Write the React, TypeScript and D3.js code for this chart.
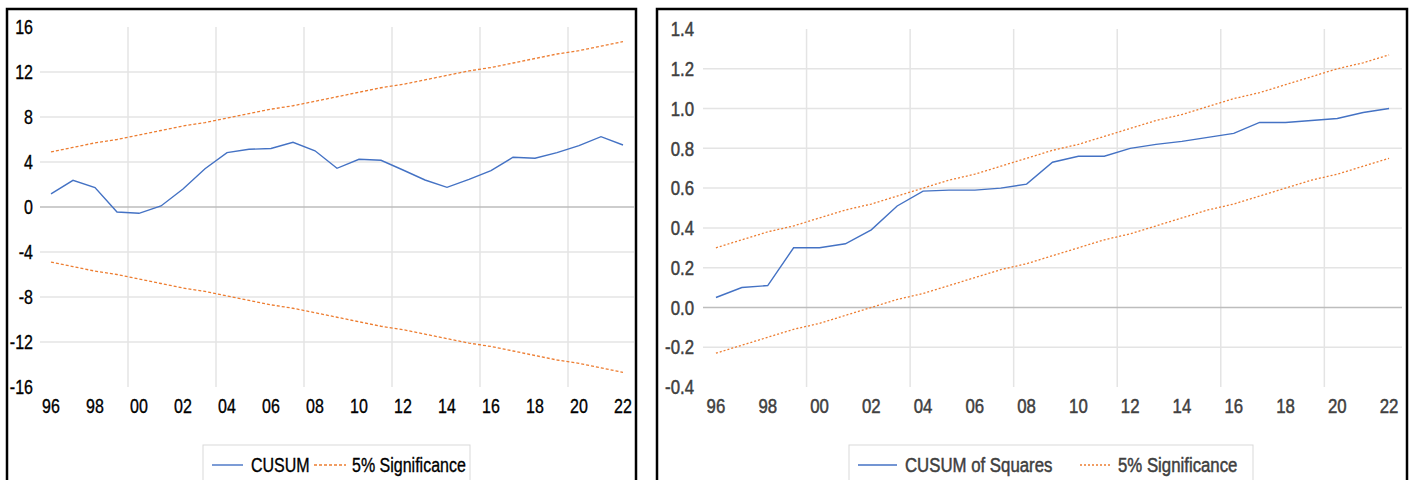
import React, { useEffect, useRef } from 'react';
import * as d3 from 'd3';

// categories (years)
const years = [1996, 1997, 1998, 1999, 2000, 2001, 2002, 2003, 2004, 2005, 2006, 2007, 2008, 2009,
  2010, 2011, 2012, 2013, 2014, 2015, 2016, 2017, 2018, 2019, 2020, 2021, 2022];
const labelYears = [1996, 1998, 2000, 2002, 2004, 2006, 2008, 2010, 2012, 2014, 2016, 2018, 2020, 2022];
const gridAfterYears = [1999, 2003, 2007, 2011, 2015, 2019];

// CUSUM panel
const cusum = [1.16, 2.37, 1.72, -0.44, -0.56, 0.09, 1.6, 3.4, 4.83, 5.13, 5.2, 5.75, 5.0, 3.44,
  4.24, 4.15, 3.29, 2.4, 1.75, 2.46, 3.23, 4.42, 4.33, 4.83, 5.45, 6.25, 5.51];
const cusumUpper = [4.9, 5.3, 5.7, 6.0, 6.4, 6.8, 7.2, 7.5, 7.9, 8.3, 8.7, 9.0, 9.4, 9.8,
  10.2, 10.6, 10.9, 11.3, 11.7, 12.1, 12.4, 12.8, 13.2, 13.6, 13.9, 14.3, 14.7];
const cusumLower = [-4.9, -5.3, -5.7, -6.0, -6.4, -6.8, -7.2, -7.5, -7.9, -8.3, -8.7, -9.0, -9.4, -9.8,
  -10.2, -10.6, -10.9, -11.3, -11.7, -12.1, -12.4, -12.8, -13.2, -13.6, -13.9, -14.3, -14.7];
const cusumTicks = [-16, -12, -8, -4, 0, 4, 8, 12, 16];

// CUSUM of squares panel
const cusumSq = [0.05, 0.1, 0.11, 0.3, 0.3, 0.32, 0.39, 0.51, 0.585, 0.59, 0.59, 0.6, 0.62, 0.73,
  0.76, 0.76, 0.8, 0.82, 0.835, 0.855, 0.875, 0.93, 0.93, 0.94, 0.95, 0.98, 1.0];
const sqUpper = [0.3, 0.34, 0.38, 0.41, 0.45, 0.49, 0.52, 0.56, 0.6, 0.64, 0.67, 0.71, 0.75, 0.79,
  0.82, 0.86, 0.9, 0.94, 0.97, 1.01, 1.05, 1.08, 1.12, 1.16, 1.2, 1.23, 1.27];
const sqLower = [-0.23, -0.19, -0.15, -0.11, -0.08, -0.04, 0.0, 0.04, 0.07, 0.11, 0.15, 0.19, 0.22, 0.26,
  0.3, 0.34, 0.37, 0.41, 0.45, 0.49, 0.52, 0.56, 0.6, 0.64, 0.67, 0.71, 0.75];
const sqTicks = [-0.4, -0.2, 0.0, 0.2, 0.4, 0.6, 0.8, 1.0, 1.2, 1.4];

// narrow look: Liberation Sans squeezed horizontally
const FONT = "'Liberation Sans', Arial, sans-serif";
const SQUEEZE = 0.8;

type G = d3.Selection<SVGGElement, unknown, null, undefined>;

interface PanelSpec {
  frame: [number, number];
  plotX: [number, number];
  plotY: [number, number];
  ticks: number[];
  fmt: (v: number) => string;
  labelRight: number;
  text: string;
  weight: number;
  fontSize: number;
  line: number[];
  upper: number[];
  lower: number[];
  dash: string;
  legend: { box: [number, number]; lineName: string; textX: [number, number] };
}

function label(g: G, p: PanelSpec, x: number, y: number, s: string, anchor = 'start') {
  g.append('text')
    .attr('transform', `translate(${x},${y}) scale(${SQUEEZE},1)`)
    .attr('text-anchor', anchor).attr('dominant-baseline', 'central')
    .attr('font-family', FONT).attr('font-size', p.fontSize).attr('fill', p.text)
    .attr('stroke', p.text).attr('stroke-width', p.weight)
    .text(s);
}

function drawPanel(root: G, p: PanelSpec) {
  const g = root.append('g') as G;

  const x = d3.scaleBand<number>().domain(years).range(p.plotX).padding(0);
  const bw = x.bandwidth();
  const cx = (yr: number) => (x(yr) as number) + bw / 2;
  const y = d3.scaleLinear().domain([p.ticks[0], p.ticks[p.ticks.length - 1]]).range(p.plotY);

  // frame
  g.append('rect')
    .attr('x', p.frame[0]).attr('y', 9)
    .attr('width', p.frame[1] - p.frame[0]).attr('height', 520)
    .attr('fill', '#fff').attr('stroke', '#000').attr('stroke-width', 2.5);

  // vertical grid
  g.selectAll('.vgrid').data(gridAfterYears).enter().append('line')
    .attr('x1', d => (x(d) as number) + bw).attr('x2', d => (x(d) as number) + bw)
    .attr('y1', p.plotY[1]).attr('y2', p.plotY[0])
    .attr('stroke', '#e4e4e4').attr('stroke-width', 1.5);

  // horizontal grid
  const inner = p.ticks.slice(1, -1);
  g.selectAll('.hgrid').data(inner).enter().append('line')
    .attr('x1', p.plotX[0]).attr('x2', p.plotX[1])
    .attr('y1', d => y(d)).attr('y2', d => y(d))
    .attr('stroke', d => (Math.abs(d) < 1e-9 ? '#bdbdbd' : '#e4e4e4'))
    .attr('stroke-width', d => (Math.abs(d) < 1e-9 ? 1.6 : 1.5));

  // axis labels
  p.ticks.forEach(t => label(g, p, p.labelRight, y(t), p.fmt(t), 'end'));
  labelYears.forEach(yr => label(g, p, cx(yr), 406, String(yr).slice(2), 'middle'));

  const ln = d3.line<number>().x((_, i) => cx(years[i])).y(d => y(d));

  [p.upper, p.lower].forEach(s => {
    g.append('path').datum(s).attr('d', ln)
      .attr('fill', 'none').attr('stroke', '#ED7D31').attr('stroke-width', 1.3)
      .attr('stroke-dasharray', p.dash);
  });
  g.append('path').datum(p.line).attr('d', ln)
    .attr('fill', 'none').attr('stroke', '#4472C4').attr('stroke-width', 1.4);

  // legend
  const [bx0, bx1] = p.legend.box;
  g.append('rect').attr('x', bx0).attr('y', 445).attr('width', bx1 - bx0).attr('height', 60)
    .attr('fill', '#fff').attr('stroke', '#d9d9d9').attr('stroke-width', 1);
  const ly = 465;
  const [t1, t2] = p.legend.textX;
  g.append('line').attr('x1', bx0 + 9).attr('x2', t1 - 8).attr('y1', ly).attr('y2', ly)
    .attr('stroke', '#4472C4').attr('stroke-width', 1.4);
  label(g, p, t1, ly, p.legend.lineName);
  g.append('line').attr('x1', t2 - 38).attr('x2', t2 - 6).attr('y1', ly).attr('y2', ly)
    .attr('stroke', '#ED7D31').attr('stroke-width', 1.3).attr('stroke-dasharray', p.dash);
  label(g, p, t2, ly, '5% Significance');
}

export default function App() {
  const svgRef = useRef<SVGSVGElement>(null);

  useEffect(() => {
    if (!svgRef.current) return;
    const svg = d3.select(svgRef.current);
    svg.selectAll('*').remove();
    const root = svg.append('g') as G;

    drawPanel(root, {
      frame: [7, 636],
      plotX: [40, 634],
      plotY: [387, 27],
      ticks: cusumTicks,
      fmt: d => String(d),
      labelRight: 33,
      text: '#000',
      weight: 0.35,
      fontSize: 20,
      line: cusum,
      upper: cusumUpper,
      lower: cusumLower,
      dash: '3,2',
      legend: { box: [203, 470], lineName: 'CUSUM', textX: [251, 352] },
    });

    drawPanel(root, {
      frame: [657, 1407],
      plotX: [703, 1402],
      plotY: [387, 29],
      ticks: sqTicks,
      fmt: d => d.toFixed(1),
      labelRight: 694,
      text: '#404040',
      weight: 0.5,
      fontSize: 21,
      line: cusumSq,
      upper: sqUpper,
      lower: sqLower,
      dash: '2,2',
      legend: { box: [849, 1253], lineName: 'CUSUM of Squares', textX: [905, 1118] },
    });
  }, []);

  return (
    <svg
      ref={svgRef}
      width={1411}
      height={480}
      style={{ position: 'absolute', left: 0, top: 0, display: 'block', background: '#fff' }}
    />
  );
}
